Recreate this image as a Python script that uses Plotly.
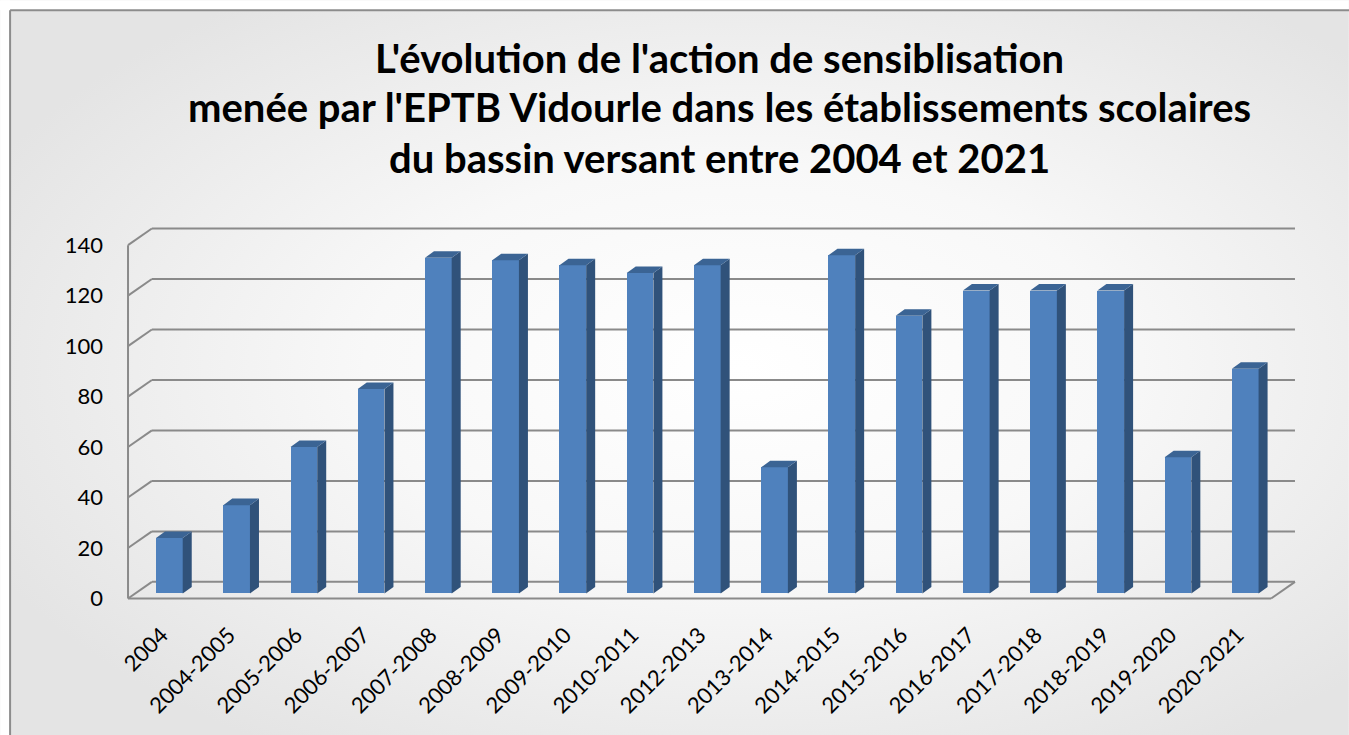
import base64
import plotly.graph_objects as go

# ---------------- data ----------------
categories = ["2004", "2004-2005", "2005-2006", "2006-2007", "2007-2008", "2008-2009",
              "2009-2010", "2010-2011", "2012-2013", "2013-2014", "2014-2015", "2015-2016",
              "2016-2017", "2017-2018", "2018-2019", "2019-2020", "2020-2021"]
values = [22, 35, 58, 81, 133, 132, 130, 127, 130, 50, 134, 110, 120, 120, 120, 54, 89]
y_ticks = [0, 20, 40, 60, 80, 100, 120, 140]
title_lines = ["L'évolution de l'action de sensiblisation",
               "menée par l'EPTB Vidourle dans les établissements scolaires",
               "du bassin versant entre 2004 et 2021"]

# ---------------- geometry / style ----------------
W, H = 1349, 735
PX_X0, PX_PER_X = 169.3, 67.25     # pixel of category 0, pixels per category
PY_0, PX_PER_Y = 593.3, 2.524      # pixel of value 0, pixels per unit
FRONT_DX, FRONT_DY = -0.115, -1.98  # front plane offset (axis units)
BACK_DX, BACK_DY = 0.24, 4.6        # back wall offset (axis units)
BAR_W = 0.397
BAR_DX, BAR_DY = 0.134, 2.6         # bar depth offset
GRID_COL = "#8a8a8a"
FRONT_COL, SIDE_COL, TOP_COL = "#4F81BD", "#30527A", "#3B6494"
TITLE_CENTERS = [58, 107, 158]
TITLE_X = 720

n = len(categories)
idx = list(range(n))
xr = [-0.5 + FRONT_DX - 0.03, n - 0.5 + BACK_DX + 0.03]
yr = [FRONT_DY - 1.0, y_ticks[-1] + BACK_DY + 1.0]
ml = PX_X0 + xr[0] * PX_PER_X
mr = W - (PX_X0 + xr[1] * PX_PER_X)
mt = PY_0 - yr[1] * PX_PER_Y
mb = H - (PY_0 - yr[0] * PX_PER_Y)
plotW, plotH = W - ml - mr, H - mt - mb


def paper_x(px):
    return (px - ml) / plotW


def paper_y(py):
    return (H - mb - py) / plotH


fig = go.Figure()

# front faces
fig.add_trace(go.Bar(x=idx, y=values, width=BAR_W, marker=dict(color=FRONT_COL, line=dict(width=0)),
                     hoverinfo="y", showlegend=False))

# side and top faces
sx, sy, tx, ty = [], [], [], []
for i, v in zip(idx, values):
    xr_e = i + BAR_W / 2
    xl_e = i - BAR_W / 2
    sx += [xr_e, xr_e + BAR_DX, xr_e + BAR_DX, xr_e, xr_e, None]
    sy += [0, BAR_DY, v + BAR_DY, v, 0, None]
    tx += [xl_e, xr_e, xr_e + BAR_DX, xl_e + BAR_DX, xl_e, None]
    ty += [v, v, v + BAR_DY, v + BAR_DY, v, None]
fig.add_trace(go.Scatter(x=sx, y=sy, mode="lines", fill="toself", fillcolor=SIDE_COL,
                         line=dict(width=0, color=SIDE_COL), hoverinfo="skip", showlegend=False))
fig.add_trace(go.Scatter(x=tx, y=ty, mode="lines", fill="toself", fillcolor=TOP_COL,
                         line=dict(width=0, color=TOP_COL), hoverinfo="skip", showlegend=False))

# 3D frame: gridlines on side wall and back wall, floor
xLf, xRf = -0.5 + FRONT_DX, n - 0.5 + FRONT_DX
xLb, xRb = -0.5 + BACK_DX, n - 0.5 + BACK_DX
shapes = []
ln = dict(color=GRID_COL, width=2)
for g in y_ticks:
    shapes.append(dict(type="line", xref="x", yref="y", x0=xLf, y0=g + FRONT_DY, x1=xLb, y1=g + BACK_DY,
                       line=ln, layer="below"))
    shapes.append(dict(type="line", xref="x", yref="y", x0=xLb, y0=g + BACK_DY, x1=xRb, y1=g + BACK_DY,
                       line=ln, layer="below"))
shapes.append(dict(type="line", xref="x", yref="y", x0=xLf, y0=FRONT_DY, x1=xRf, y1=FRONT_DY, line=ln, layer="below"))
shapes.append(dict(type="line", xref="x", yref="y", x0=xRf, y0=FRONT_DY, x1=xRb, y1=BACK_DY, line=ln, layer="below"))
shapes.append(dict(type="line", xref="x", yref="y", x0=xLf, y0=FRONT_DY, x1=xLf, y1=y_ticks[-1] + FRONT_DY,
                   line=ln, layer="below"))
# outer chart border (left and top)
bl = dict(color="#8c8c8c", width=2)
shapes.append(dict(type="line", xref="paper", yref="paper", x0=paper_x(10), y0=paper_y(10),
                   x1=paper_x(10), y1=paper_y(H + 5), line=bl))
shapes.append(dict(type="line", xref="paper", yref="paper", x0=paper_x(10), y0=paper_y(10),
                   x1=paper_x(W + 5), y1=paper_y(10), line=bl))

# background gradient
svg = ("<svg xmlns='http://www.w3.org/2000/svg' width='1349' height='735' preserveAspectRatio='none'>"
       "<defs><radialGradient id='g' cx='0.55' cy='0.5' r='0.62'>"
       "<stop offset='0' stop-color='#ffffff'/><stop offset='0.45' stop-color='#f8f8f8'/>"
       "<stop offset='1' stop-color='#e4e4e4'/></radialGradient></defs>"
       "<rect width='1349' height='735' fill='url(#g)'/>"
       "<rect x='0' y='0' width='10' height='735' fill='#ffffff'/>"
       "<rect x='0' y='0' width='1349' height='10' fill='#ffffff'/></svg>")
uri = "data:image/svg+xml;base64," + base64.b64encode(svg.encode()).decode()

annotations = []
for line, cy in zip(title_lines, TITLE_CENTERS):
    annotations.append(dict(text=line, xref="paper", yref="paper", x=paper_x(TITLE_X), y=paper_y(cy),
                            xanchor="center", yanchor="middle", showarrow=False,
                            font=dict(family="Lato, sans-serif", size=40, color="#000000", weight="bold")))

fig.update_layout(
    width=W, height=H,
    margin=dict(l=ml, r=mr, t=mt, b=mb, pad=0),
    paper_bgcolor="#ffffff", plot_bgcolor="rgba(0,0,0,0)",
    font=dict(family="Lato, Carlito, sans-serif", color="#000000"),
    shapes=shapes,
    annotations=annotations,
    images=[dict(source=uri, xref="paper", yref="paper", x=paper_x(0), y=paper_y(0),
                 sizex=W / plotW, sizey=H / plotH, sizing="stretch", xanchor="left", yanchor="top",
                 layer="below")],
    bargap=0,
    showlegend=False,
)
fig.update_xaxes(range=xr, tickmode="array", tickvals=[i + FRONT_DX for i in idx], ticktext=categories,
                 tickangle=-45, showgrid=False, zeroline=False, showline=False, ticks="",
                 ticklabelstandoff=16, tickfont=dict(size=22, color="#000000"), automargin=False,
                 fixedrange=True)
fig.update_yaxes(range=yr, tickmode="array", tickvals=[g + FRONT_DY for g in y_ticks],
                 ticktext=[str(g) for g in y_ticks], showgrid=False, zeroline=False, showline=False,
                 ticks="", ticklabelstandoff=22, tickfont=dict(size=22, color="#000000"), automargin=False,
                 fixedrange=True)

fig.write_html("out.html", config={"displayModeBar": False},
               post_script="document.body.style.margin='0';document.body.style.overflow='hidden';")
